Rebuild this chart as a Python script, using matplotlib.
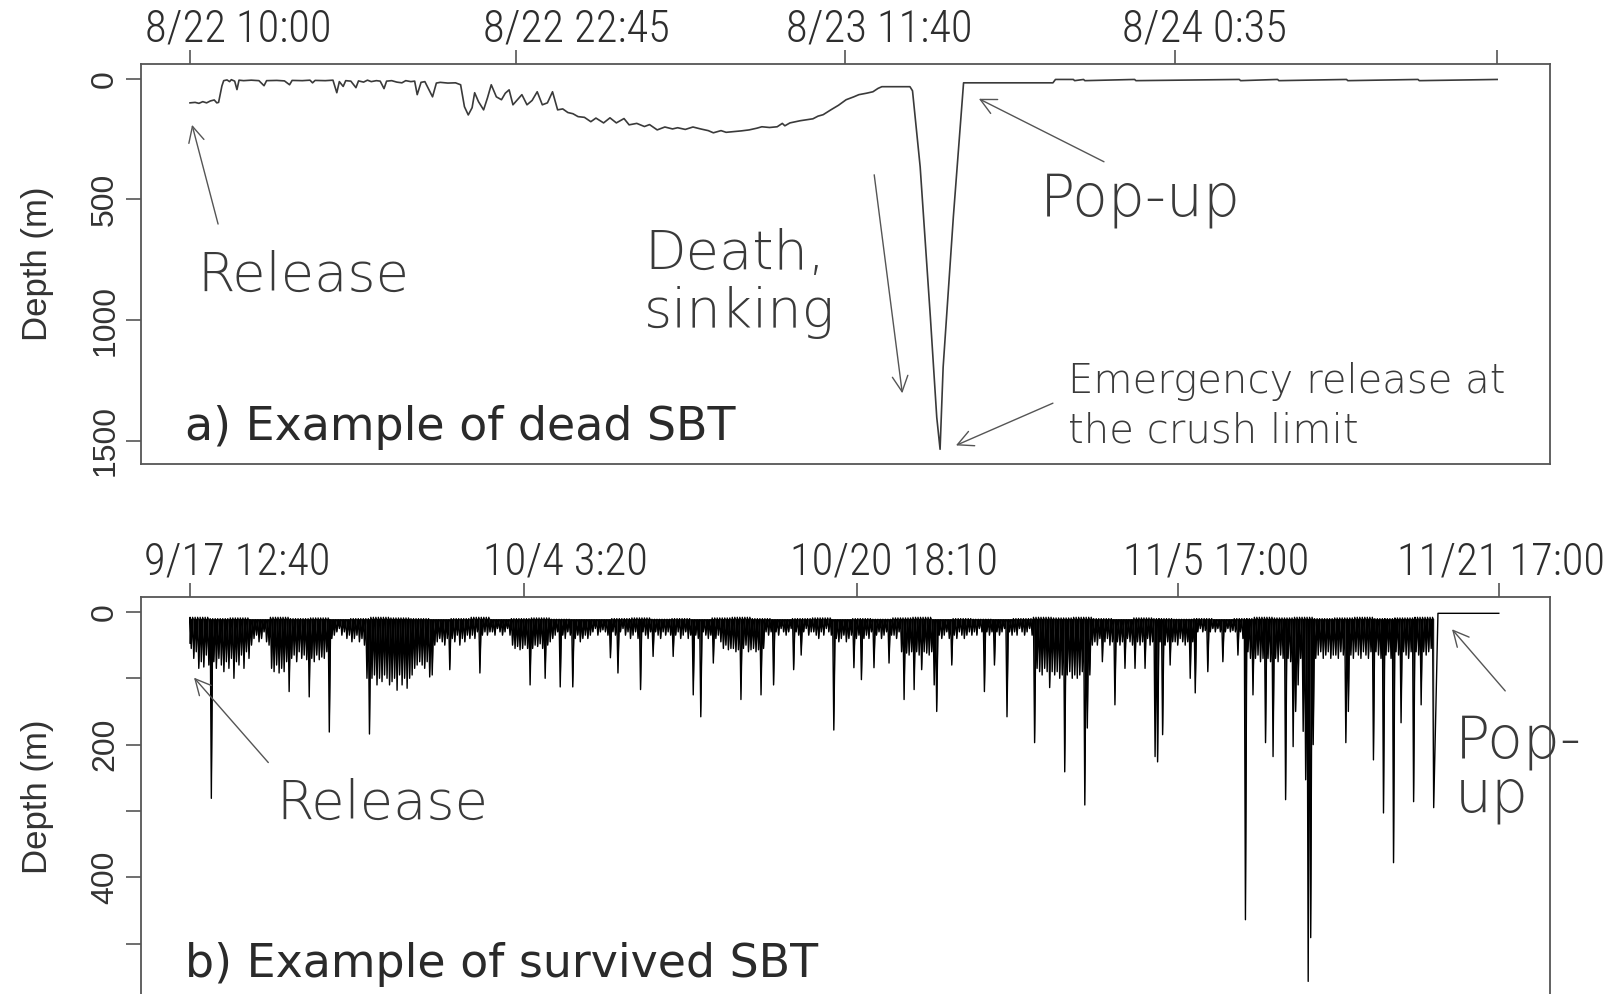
import numpy as np
import matplotlib
matplotlib.use("Agg")
import matplotlib.pyplot as plt
from matplotlib import font_manager
from matplotlib.transforms import ScaledTranslation


def pick(*names):
    have = {f.name for f in font_manager.fontManager.ttflist}
    for n in names:
        if n in have:
            return n
    return "DejaVu Sans"


NARROW = pick("Liberation Sans Narrow", "Roboto Condensed", "Liberation Sans")
SANS = pick("Liberation Sans", "DejaVu Sans")
ROUND = pick("DejaVu Sans")

# ── a) dead SBT: hours since 8/22 10:00, depth (m) ──────────────────────
dead_hours = [0.00, 0.20, 0.35, 0.50, 0.65, 0.80, 0.95, 1.05, 1.12, 1.25, 1.32, 1.45,
              1.55, 1.62, 1.75, 1.84, 1.92, 2.1, 2.4, 2.7, 2.9, 3.0, 3.4, 3.7, 3.9,
              4.0, 4.4, 4.7, 4.8, 4.9, 5.3, 5.6, 5.75, 5.85, 6.0, 6.1, 6.3, 6.5, 6.6,
              6.8, 6.95, 7.1, 7.3, 7.45, 7.6, 7.7, 7.9, 8.1, 8.3, 8.45, 8.65, 8.8, 8.9,
              9.05, 9.2, 9.5, 9.65, 9.8, 10.1, 10.4, 10.6, 10.75, 10.9, 11.05, 11.15,
              11.3, 11.5, 11.65, 11.8, 12.0, 12.2, 12.35, 12.5, 12.65, 12.8, 13.0,
              13.2, 13.4, 13.6, 13.8, 14.0, 14.2, 14.4, 14.6, 14.8, 15.0, 15.2, 15.45,
              15.7, 15.9, 16.2, 16.45, 16.7, 17.0, 17.2, 17.5, 17.8, 18.0, 18.3, 18.6,
              18.9, 19.1, 19.4, 19.7, 20.0, 20.3, 20.5, 20.8, 21.0, 21.3, 21.6, 21.9,
              22.2, 22.4, 22.7, 23.0, 23.2, 23.3, 23.5, 23.9, 24.4, 24.6, 24.8, 25.1,
              25.4, 25.7, 26.0, 26.2, 26.5, 26.75, 26.95, 27.1, 28.2, 28.3, 28.6,
              29.0, 29.25, 29.38, 29.5, 29.9, 30.3, 33.8, 33.9, 34.6, 34.65, 35.0,
              35.05, 37.0, 37.05, 41.1, 41.15, 42.6, 42.65, 45.3, 45.35, 48.1, 48.15,
              51.2]
dead_depth = [100, 98, 102, 95, 100, 92, 88, 100, 98, 30, 8, 5,
              12, 4, 10, 45, 6, 8, 6, 8, 29, 8, 7, 9, 25,
              7, 8, 6, 17, 7, 8, 6, 58, 12, 32, 8, 10, 37, 9,
              14, 6, 12, 8, 10, 41, 10, 8, 14, 17, 8, 12, 10, 66,
              15, 12, 75, 18, 15, 18, 17, 25, 116, 150, 120, 58,
              95, 129, 80, 25, 75, 87, 60, 46, 108, 90, 66,
              108, 90, 54, 108, 100, 54, 129, 125, 140, 145, 157, 160,
              178, 163, 183, 162, 183, 165, 191, 185, 198, 190, 212, 200,
              208, 203, 210, 200, 208, 215, 224, 215, 222, 219, 216, 212,
              205, 199, 202, 199, 185, 195, 183, 174, 166, 155, 149, 129,
              110, 87, 75, 66, 60, 54, 40, 33, 33, 50, 365,
              988, 1403, 1535, 1195, 572, 17, 17, 3, 3, 8, 3,
              8, 3, 8, 3, 8, 3, 8, 3, 8, 3, 8,
              3]

# ── b) survived SBT: days since 9/17 12:40 ───────────────────────────────
release_depth = 47
surface_by_day = [8, 10, 9, 12, 8, 10, 9, 12, 10, 8,
                  9, 10, 12, 10, 8, 12, 10, 9, 11, 12,
                  12, 10, 9, 11, 10, 12, 9, 8, 10, 12,
                  10, 9, 12, 10, 11, 9, 8, 12, 10, 11,
                  12, 10, 8, 9, 8, 10, 12, 9, 10, 11,
                  10, 12, 10, 8, 9, 8, 10, 9, 8, 10,
                  9, 8]
# eight dives per day (every 3 h), maximum depth of each dive
dives_by_day = [
    [55, 70, 60, 85, 75, 83, 65, 80],
    [281, 75, 85, 70, 80, 90, 75, 85],
    [70, 100, 75, 80, 65, 85, 60, 70],
    [50, 40, 35, 45, 40, 30, 45, 50],
    [85, 90, 80, 92, 85, 90, 75, 120],
    [70, 65, 75, 60, 70, 65, 72, 128],
    [70, 75, 65, 72, 68, 70, 60, 181],
    [40, 35, 30, 25, 35, 30, 40, 35],
    [45, 40, 35, 45, 40, 50, 100, 184],
    [100, 95, 110, 100, 105, 95, 100, 110],
    [105, 100, 118, 95, 110, 100, 115, 100],
    [95, 85, 80, 75, 80, 85, 75, 98],
    [95, 50, 45, 40, 45, 50, 40, 87],
    [40, 45, 35, 50, 40, 45, 35, 40],
    [35, 40, 30, 92, 35, 30, 35, 30],
    [30, 35, 25, 30, 35, 30, 25, 35],
    [50, 55, 52, 57, 55, 50, 55, 110],
    [55, 50, 52, 48, 55, 100, 50, 45],
    [40, 35, 30, 113, 35, 40, 30, 35],
    [113, 40, 35, 45, 40, 35, 40, 35],
    [30, 25, 35, 30, 27, 30, 35, 69],
    [30, 35, 92, 30, 25, 35, 30, 40],
    [35, 30, 40, 117, 30, 35, 40, 30],
    [67, 30, 35, 40, 30, 35, 30, 35],
    [67, 35, 30, 40, 35, 30, 40, 35],
    [125, 35, 40, 158, 30, 35, 40, 35],
    [77, 40, 35, 45, 55, 50, 57, 55],
    [55, 60, 57, 132, 55, 50, 60, 57],
    [55, 60, 57, 125, 55, 30, 35, 30],
    [110, 30, 35, 25, 30, 35, 30, 25],
    [87, 30, 35, 65, 30, 25, 35, 30],
    [30, 35, 40, 30, 35, 25, 30, 35],
    [178, 40, 45, 40, 35, 45, 40, 35],
    [84, 40, 35, 102, 40, 35, 40, 30],
    [84, 35, 30, 40, 35, 30, 77, 35],
    [35, 40, 30, 60, 132, 62, 65, 60],
    [117, 60, 65, 87, 60, 62, 65, 60],
    [110, 150, 35, 40, 35, 30, 40, 80],
    [35, 40, 30, 35, 40, 35, 30, 35],
    [30, 35, 25, 30, 120, 30, 35, 30],
    [80, 30, 35, 30, 25, 158, 30, 35],
    [30, 35, 25, 30, 35, 30, 25, 35],
    [197, 85, 90, 95, 85, 90, 114, 90],
    [95, 90, 100, 95, 241, 95, 90, 100],
    [95, 100, 95, 90, 291, 175, 95, 50],
    [45, 50, 40, 75, 45, 40, 50, 45],
    [140, 45, 50, 45, 85, 40, 45, 50],
    [85, 45, 50, 45, 85, 40, 50, 45],
    [218, 226, 45, 185, 50, 45, 80, 45],
    [45, 50, 40, 45, 50, 45, 100, 45],
    [122, 30, 25, 30, 28, 90, 30, 25],
    [30, 25, 30, 75, 30, 25, 30, 28],
    [30, 65, 30, 40, 464, 60, 70, 125],
    [70, 65, 75, 70, 197, 70, 75, 218],
    [70, 75, 65, 70, 283, 70, 75, 203],
    [150, 110, 70, 180, 253, 557, 491, 200],
    [70, 65, 60, 70, 65, 60, 70, 65],
    [65, 70, 60, 65, 197, 150, 65, 70],
    [60, 65, 70, 60, 65, 70, 60, 223],
    [60, 65, 70, 303, 65, 60, 70, 378],
    [60, 65, 167, 60, 65, 70, 60, 286],
    [60, 65, 140, 60, 65, 60, 55, 295],
]
popup_days = [62.15, 65.18]
popup_depth = [2, 2]

dead_ticks = [0, 12.75, 25.667, 38.583, 51.2]
dead_labels = ["8/22 10:00", "8/22 22:45", "8/23 11:40", "8/24 0:35", ""]
surv_ticks = [0, 16.611, 33.229, 49.181, 65.181]
surv_labels = ["9/17 12:40", "10/4 3:20", "10/20 18:10", "11/5 17:00", "11/21 17:00"]

# assemble the dive track: surface, dive, surface, dive ...
surv_t, surv_d = [0.0], [release_depth]
for day, (s, row) in enumerate(zip(surface_by_day, dives_by_day)):
    for k, v in enumerate(row):
        surv_t += [day + (k + 0.05) / 8, day + (k + 0.5) / 8]
        surv_d += [s, v]
dive_t, dive_d = np.array(surv_t), np.array(surv_d)
surv_t += popup_days
surv_d += popup_depth

# ── figure ───────────────────────────────────────────────────────────────
fig = plt.figure(figsize=(16.12, 9.94), dpi=100)
ax1 = fig.add_axes([141 / 1612, 1 - 464 / 994, 1409 / 1612, 400 / 994])
ax2 = fig.add_axes([141 / 1612, 1 - 996 / 994, 1409 / 1612, 399 / 994])

SPINE = "#555555"


def style(ax, ticks, labels, shifts, yt, ylabels):
    for sp in ax.spines.values():
        sp.set_color(SPINE); sp.set_linewidth(1.3)
    ax.xaxis.tick_top()
    ax.set_xticks(ticks)
    ax.set_xticklabels(labels, fontsize=32, family=NARROW, fontweight="light", color="#2e2e2e")
    ax.tick_params(axis="x", direction="out", length=10, width=1.2, color=SPINE, pad=0)
    for tk, dx in zip(ax.xaxis.get_major_ticks(), shifts):
        lab = tk.label2
        lab.set_horizontalalignment("left")
        lab.set_transform(lab.get_transform() + ScaledTranslation(dx / 100, 0, fig.dpi_scale_trans))
    ax.set_yticks(yt)
    ax.set_yticklabels(ylabels, fontsize=23, family=SANS, color="#333333")
    ax.tick_params(axis="y", direction="out", length=11, width=1.2, color=SPINE, pad=4)
    for lab in ax.get_yticklabels():
        lab.set_rotation(90); lab.set_va("center"); lab.set_ha("right")
    ax.set_ylabel("Depth (m)", fontsize=25, family=SANS, color="#333333")
    ax.yaxis.set_label_coords(-0.062, 0.5)


ax1.plot(dead_hours, dead_depth, color="#3a3a3a", lw=1.2)
ax1.set_xlim(-1.919, 53.27)
ax1.set_ylim(1596, -61)
style(ax1, dead_ticks, dead_labels, [-45, -33, -59, -53, 0],
      [0, 500, 1000, 1500], ["0", "500", "1000", "1500"])

# dense dive record: the V's merge into a solid band as in the original trace
ax2.fill_between(dive_t, dive_d, np.minimum(dive_d, 10), color="black", lw=0)
ax2.plot(surv_t, surv_d, color="black", lw=1.0)
ax2.set_xlim(-2.44, 67.73)
ax2.set_ylim(579, -22.6)
style(ax2, surv_ticks, surv_labels, [-46, -41, -67, -55, -102],
      [0, 100, 200, 300, 400, 500], ["0", "", "200", "", "400", ""])

TXT = "#3a3a3a"
ARW = dict(arrowstyle="->", color="#555555", lw=1.0, mutation_scale=28, shrinkA=0, shrinkB=0)
big = dict(fontsize=39, family=ROUND, fontweight="light", color=TXT, va="baseline", ha="left")
pop = dict(fontsize=42, family=ROUND, fontweight="light", color=TXT, va="baseline", ha="left")
small = dict(fontsize=29, family=ROUND, fontweight="light", color=TXT, va="baseline", ha="left")
panel = dict(fontsize=33, family=ROUND, color="#2a2a2a", va="baseline", ha="left")

# panel a annotations
ax1.annotate("", xy=(0.08, 191), xytext=(1.1, 602), arrowprops=ARW)
ax1.text(0.27, 880, "Release", **big)
ax1.annotate("", xy=(27.9, 1303), xytext=(26.8, 398), arrowprops=ARW)
ax1.text(17.8, 788, "Death,", **big)
ax1.text(17.8, 1029, "sinking", **big)
ax1.annotate("", xy=(30.9, 83), xytext=(35.8, 344), arrowprops=ARW)
ax1.text(33.3, 568, "Pop-up", **pop)
ax1.annotate("", xy=(30.0, 1519), xytext=(33.8, 1344), arrowprops=ARW)
ax1.text(34.4, 1303, "Emergency release at", **small)
ax1.text(34.4, 1506, "the crush limit", **small)
ax1.text(-0.2, 1498, "a) Example of dead SBT", **panel)

# panel b annotations
ax2.annotate("", xy=(0.2, 99), xytext=(3.9, 227), arrowprops=ARW)
ax2.text(4.28, 312, "Release", **big)
ax2.annotate("", xy=(62.85, 26), xytext=(65.5, 119), arrowprops=ARW)
ax2.text(63.0, 220, "Pop-", clip_on=False, **pop)
ax2.text(63.0, 301, "up", clip_on=False, **pop)
ax2.text(-0.25, 550, "b) Example of survived SBT", **panel)

fig.savefig("out.png", dpi=100)
